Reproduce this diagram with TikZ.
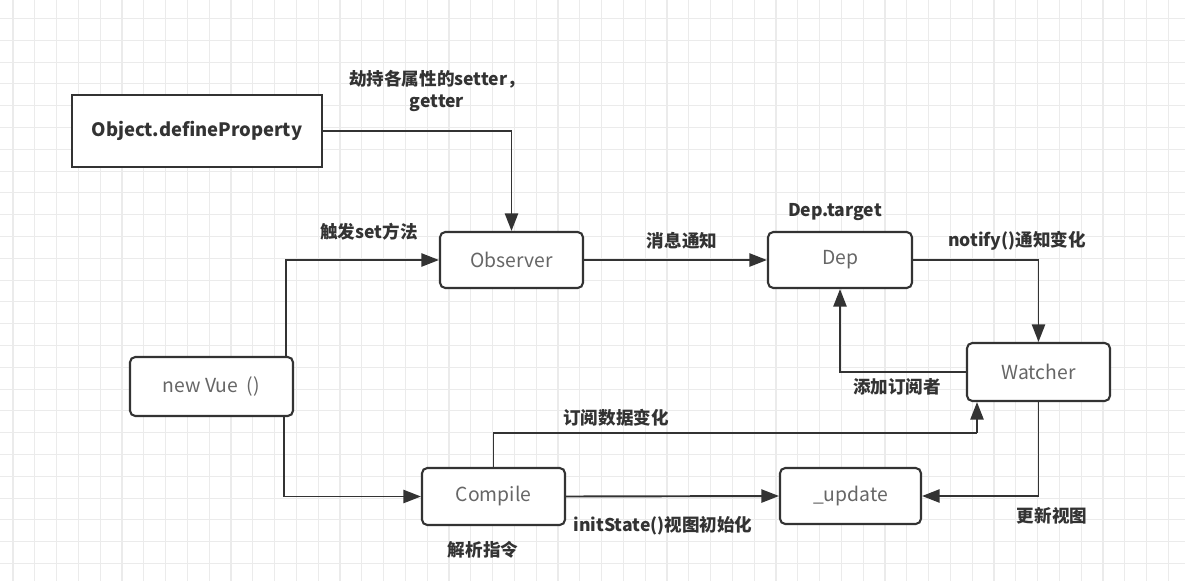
\documentclass[tikz,border=0pt]{standalone}
\usepackage{fontspec}
\setmainfont{Noto Sans CJK SC}
\usetikzlibrary{arrows.meta}

\definecolor{gridgray}{HTML}{EBEBEB}
\definecolor{linegray}{HTML}{333333}
\definecolor{textgray}{HTML}{666666}

\begin{document}
\begin{tikzpicture}[x=0.02cm, y=-0.02cm,
    box/.style={draw=linegray, line width=1.2pt, rounded corners=3pt, fill=white,
        text=textgray, font=\fontsize{11}{12}\selectfont, inner sep=0pt},
    tag/.style={text=linegray, font=\bfseries\fontsize{10}{13}\selectfont, inner sep=1pt},
    flow/.style={draw=linegray, line width=1.1pt, -{Triangle[length=10pt, width=7.5pt]}},
    plain/.style={draw=linegray, line width=1.1pt}]

    % background and grid
    \fill[white] (0,0) rectangle (1185,581);
    \useasboundingbox (0,0) rectangle (1185,581);
    \foreach \gx in {0,...,54}
        \draw[gridgray, line width=0.6pt] (13+\gx*21.8,0) -- (13+\gx*21.8,581);
    \foreach \gy in {0,...,26}
        \draw[gridgray, line width=0.6pt] (0,18.5+\gy*21.8) -- (1185,18.5+\gy*21.8);

    % boxes
    \node[box, sharp corners, line width=1.6pt, text=linegray, font=\bfseries\fontsize{10.5}{12}\selectfont,
        minimum width=5cm, minimum height=1.44cm] (odp) at (197,131) {Object.defineProperty};
    \node[box, minimum width=2.86cm, minimum height=1.12cm] (obs) at (511.5,260) {Observer};
    \node[box, minimum width=2.88cm, minimum height=1.12cm] (dep) at (840,260) {Dep};
    \node[box, minimum width=2.86cm, minimum height=1.16cm] (wat) at (1038.5,372) {Watcher};
    \node[box, minimum width=3.26cm, minimum height=1.18cm] (vue) at (211.5,386.5) {new Vue~~()};
    \node[box, minimum width=2.86cm, minimum height=1.14cm] (cmp) at (493.5,496.5) {Compile};
    \node[box, minimum width=2.82cm, minimum height=1.12cm] (upd) at (850.5,496) {\_update};

    % connectors
    \draw[flow] (odp.east) -| (obs.north);
    \draw[flow] ([xshift=-0.16cm]vue.north east) |- (obs.west);
    \draw[flow] ([xshift=-0.2cm]vue.south east) |- (cmp.west);
    \draw[flow] (obs.east) -- (dep.west);
    \draw[flow] (dep.east) -| (wat.north);
    \draw[flow] (wat.west) -| (dep.south);
    \coordinate (sub) at (977,433);
    \draw[plain] (cmp.north) |- (sub);
    \draw[flow] (sub) -- (sub |- wat.south);
    \draw[flow] (cmp.east) -- (upd.west);
    \draw[flow] (wat.south) |- (upd.east);

    % labels
    \node[tag, align=center] (hijack) at (437,91) {劫持各属性的setter，\\getter};
    \node[tag] (trigger) at (369,232) {触发set方法};
    \node[tag] (notice) at (682,241) {消息通知};
    \node[tag] (target) at (835,212) {Dep.target};
    \node[tag] (notify) at (1017,241) {notify()通知变化};
    \node[tag] (addsub) at (897,387) {添加订阅者};
    \node[tag] (subscribe) at (616,418) {订阅数据变化};
    \node[tag] (init) at (663,526) {initState()视图初始化};
    \node[tag] (refresh) at (1052,516) {更新视图};
    \node[tag] (parse) at (483,550) {解析指令};
\end{tikzpicture}
\end{document}
